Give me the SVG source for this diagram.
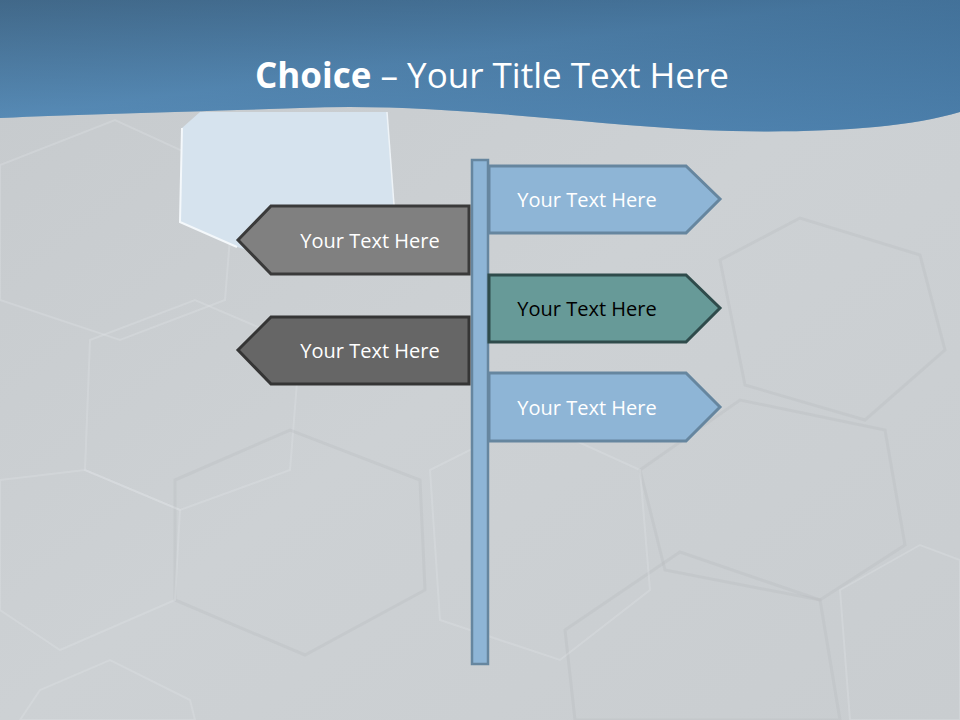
<svg xmlns="http://www.w3.org/2000/svg" width="960" height="720" viewBox="0 0 960 720">
<defs>
<linearGradient id="bg" x1="0" y1="0" x2="1" y2="1">
<stop offset="0" stop-color="#c6cacd"/>
<stop offset="0.5" stop-color="#cdd1d4"/>
<stop offset="1" stop-color="#c9cdd0"/>
</linearGradient>
<linearGradient id="band" x1="0" y1="0" x2="1" y2="1">
<stop offset="0" stop-color="#4b7292"/>
<stop offset="0.45" stop-color="#4f82ad"/>
<stop offset="1" stop-color="#3a6c98"/>
</linearGradient>
<linearGradient id="bandv" x1="0" y1="0" x2="0" y2="1">
<stop offset="0" stop-color="#2f5678" stop-opacity="0.35"/>
<stop offset="1" stop-color="#6aa0cc" stop-opacity="0.35"/>
</linearGradient>
<style>
.hex{fill:none;stroke:#e2e5e7;stroke-width:2;opacity:0.3}
.hexd{fill:none;stroke:#b7bbbe;stroke-width:3;opacity:0.3}
.lbl{font-family:"Open Sans","Liberation Sans",sans-serif;font-size:20px;text-anchor:middle;dominant-baseline:central}
.blue{fill:#8eb5d6;stroke:#66869f;stroke-width:3}
.teal{fill:#679a98;stroke:#2f4b4b;stroke-width:3}
.g1{fill:#808080;stroke:#3a3a3a;stroke-width:3}
.g2{fill:#666666;stroke:#353535;stroke-width:3}
</style>
</defs>
<rect width="960" height="720" fill="url(#bg)"/>
<g id="background-hexagons">
<polygon class="hex" points="0,165 115,120 235,175 225,300 120,340 0,300"/>
<polygon class="hex" points="90,340 195,300 300,345 290,470 180,510 85,470"/>
<polygon class="hexd" points="175,480 290,430 420,480 425,590 305,655 175,600"/>
<polygon class="hex" points="0,480 85,470 180,510 175,600 60,650 0,610"/>
<polygon class="hexd" points="720,260 800,218 920,255 945,350 865,420 745,385"/>
<polygon class="hexd" points="640,470 740,400 885,430 905,545 820,600 665,570"/>
<polygon class="hexd" points="565,630 680,552 820,600 840,720 575,720"/>
<polygon class="hex" points="840,590 920,545 960,560 960,720 850,720"/>
<polygon class="hex" points="430,470 530,420 640,470 650,590 560,660 440,620"/>
<polygon class="hex" points="20,720 40,690 110,660 190,700 195,720"/>
</g>
<g id="light-hexagon">
<polygon points="182,128 200,112 387,112 394,206 300,265 237,247 180,222" fill="#d6e3ee"/>
<polyline points="182,128 180,222 237,247" fill="none" stroke="#f4f8fb" stroke-width="2"/>
<line x1="387" y1="112" x2="394" y2="205" stroke="#eef3f7" stroke-width="1.5"/>
</g>
<g id="title-band">
<path d="M0,0 H960 V112 C900,130 800,134 700,130 C560,122 430,102 300,108 C180,112 80,114 0,118 Z" fill="url(#band)"/>
<path d="M0,0 H960 V112 C900,130 800,134 700,130 C560,122 430,102 300,108 C180,112 80,114 0,118 Z" fill="url(#bandv)"/>
<text x="492" y="88" font-family="'Open Sans','Liberation Sans',sans-serif" font-size="35" fill="#ffffff" text-anchor="middle"><tspan font-weight="bold">Choice</tspan> – Your Title Text Here</text>
</g>
<g id="pole">
<rect x="472" y="160" width="16" height="504" fill="#8eb5d6" stroke="#66869f" stroke-width="2.5"/>
</g>
<g id="sign-right-1">
<polygon class="blue" points="489,166 686,166 720,199 686,233 489,233"/>
<text class="lbl" x="587" y="199" fill="#ffffff">Your Text Here</text>
</g>
<g id="sign-right-2">
<polygon class="teal" points="489,275 686,275 720,308 686,342 489,342"/>
<text class="lbl" x="587" y="308" fill="#000000">Your Text Here</text>
</g>
<g id="sign-right-3">
<polygon class="blue" points="489,373 686,373 720,407 686,441 489,441"/>
<text class="lbl" x="587" y="407" fill="#ffffff">Your Text Here</text>
</g>
<g id="sign-left-1">
<polygon class="g1" points="469,206 271,206 238,240 271,274 469,274"/>
<text class="lbl" x="370" y="240" fill="#ffffff">Your Text Here</text>
</g>
<g id="sign-left-2">
<polygon class="g2" points="469,317 271,317 238,350 271,384 469,384"/>
<text class="lbl" x="370" y="350" fill="#ffffff">Your Text Here</text>
</g>
</svg>
